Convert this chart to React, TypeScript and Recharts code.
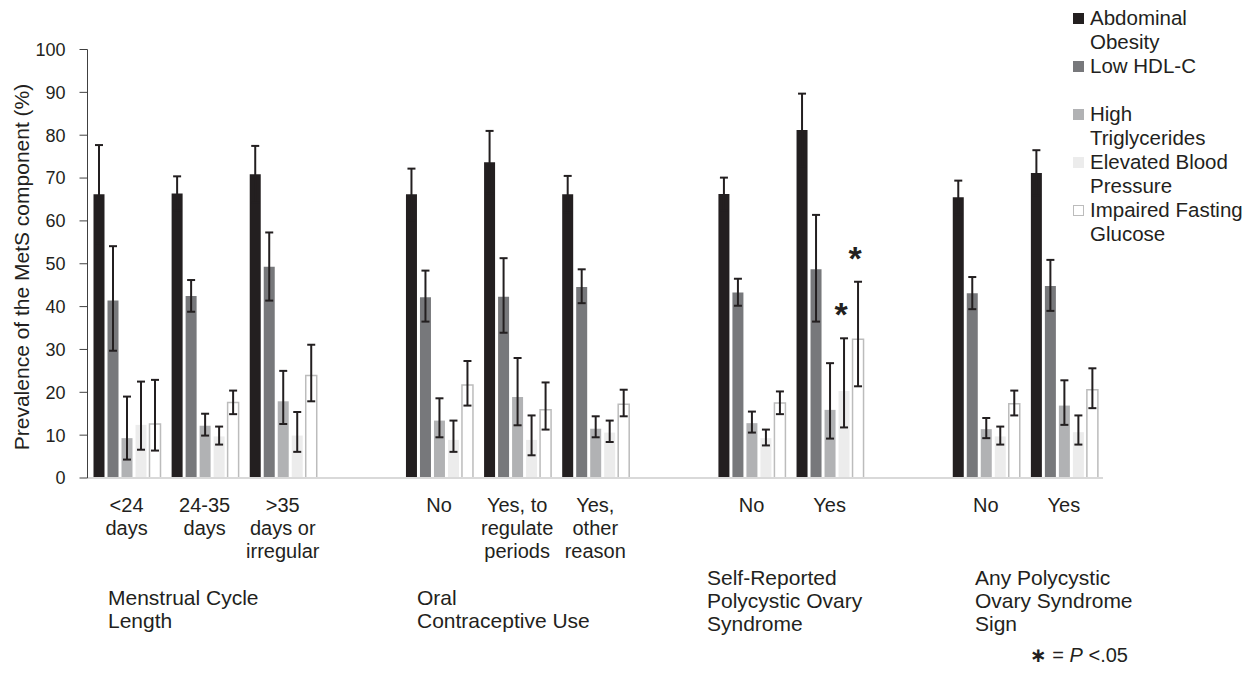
import React from 'react';
import { BarChart, Bar, XAxis, YAxis, ErrorBar, Legend, LabelList, Label } from 'recharts';

// x categories (blank entries are the gaps between groups)
const categoryLines: string[][] = [
  ['<24', 'days'],
  ['24-35', 'days'],
  ['>35', 'days or', 'irregular'],
  [],
  ['No'],
  ['Yes, to', 'regulate', 'periods'],
  ['Yes,', 'other', 'reason'],
  [],
  ['No'],
  ['Yes'],
  [],
  ['No'],
  ['Yes'],
];

const groupLabels = [
  { lines: ['Menstrual Cycle', 'Length'], left: 100, top: 578 },
  { lines: ['Oral', 'Contraceptive Use'], left: 409, top: 578 },
  { lines: ['Self-Reported', 'Polycystic Ovary', 'Syndrome'], left: 699, top: 558 },
  { lines: ['Any Polycystic', 'Ovary Syndrome', 'Sign'], left: 967, top: 558 },
];

const yTicks = [0, 10, 20, 30, 40, 50, 60, 70, 80, 90, 100];

type CI = [number, number] | null;

const abdominalObesity = [66.2, 66.4, 70.9, null, 66.2, 73.7, 66.2, null, 66.3, 81.2, null, 65.5, 71.2];
const abdominalObesityCI: CI[] = [[54.7, 77.7], [62.4, 70.4], [64.3, 77.5], null, [60.2, 72.2], [66.4, 81.0], [61.9, 70.5], null, [62.5, 70.1], [72.7, 89.7], null, [61.6, 69.4], [65.9, 76.5]];

const lowHdl = [41.4, 42.5, 49.3, null, 42.2, 42.3, 44.6, null, 43.3, 48.7, null, 43.1, 44.8];
const lowHdlCI: CI[] = [[29.7, 54.1], [38.8, 46.2], [41.4, 57.3], null, [36.5, 48.4], [33.9, 51.3], [40.8, 48.7], null, [40.2, 46.5], [36.5, 61.4], null, [39.4, 46.9], [39.0, 50.9]];

const highTg = [9.3, 12.2, 17.9, null, 13.4, 18.9, 11.5, null, 12.8, 15.9, null, 11.4, 16.9];
const highTgCI: CI[] = [[4.3, 19.0], [9.9, 15.0], [12.6, 25.0], null, [9.5, 18.6], [12.3, 28.0], [9.5, 14.4], null, [10.6, 15.5], [9.2, 26.8], null, [9.3, 14.0], [12.4, 22.8]];

const bloodPressure = [12.4, 9.7, 9.9, null, 8.9, 8.9, 10.6, null, 9.3, 20.3, null, 9.7, 10.7];
const bloodPressureCI: CI[] = [[6.6, 22.5], [7.8, 12.0], [6.1, 15.4], null, [6.1, 13.4], [5.3, 14.6], [8.4, 13.4], null, [7.6, 11.3], [11.8, 32.6], null, [7.8, 12.0], [7.8, 14.6]];
const bloodPressureSig = [false, false, false, false, false, false, false, false, false, true, false, false, false];

const fastingGlucose = [12.6, 17.6, 23.9, null, 21.7, 15.9, 17.2, null, 17.5, 32.4, null, 17.3, 20.6];
const fastingGlucoseCI: CI[] = [[6.4, 22.9], [14.9, 20.4], [17.9, 31.1], null, [16.9, 27.3], [11.3, 22.3], [14.4, 20.6], null, [14.9, 20.2], [21.4, 45.8], null, [14.6, 20.4], [16.3, 25.6]];
const fastingGlucoseSig = [false, false, false, false, false, false, false, false, false, true, false, false, false];

const series = [
  { key: 'ao', name: 'Abdominal Obesity', legend: ['Abdominal', 'Obesity'], values: abdominalObesity, ci: abdominalObesityCI, sig: null, fill: '#231f20', stroke: 'none' },
  { key: 'hdl', name: 'Low HDL-C', legend: ['Low HDL-C', ''], values: lowHdl, ci: lowHdlCI, sig: null, fill: '#77787b', stroke: 'none' },
  { key: 'tg', name: 'High Triglycerides', legend: ['High', 'Triglycerides'], values: highTg, ci: highTgCI, sig: null, fill: '#b1b2b4', stroke: 'none' },
  { key: 'bp', name: 'Elevated Blood Pressure', legend: ['Elevated Blood', 'Pressure'], values: bloodPressure, ci: bloodPressureCI, sig: bloodPressureSig, fill: '#ececec', stroke: 'none' },
  { key: 'ifg', name: 'Impaired Fasting Glucose', legend: ['Impaired Fasting', 'Glucose'], values: fastingGlucose, ci: fastingGlucoseCI, sig: fastingGlucoseSig, fill: '#ffffff', stroke: '#bcbcbc' },
];

const data = categoryLines.map((lines, i) => {
  const row: any = { key: `c${i}` };
  series.forEach((s) => {
    const v = s.values[i];
    const ci = s.ci[i];
    row[s.key] = v;
    row[`${s.key}Err`] = v != null && ci ? [v - ci[0], ci[1] - v] : undefined;
    // category index of a significant bar, so the label can look up its CI
    row[`${s.key}Star`] = s.sig && s.sig[i] ? i : null;
  });
  return row;
});

const TEXT = '#231f20';
const FONT = '"Liberation Sans", Arial, sans-serif';
const BAR_SIZE = 11;

const CategoryTick = (props: any) => {
  const { x, y, payload } = props;
  const lines = categoryLines[payload.index] || [];
  return (
    <text x={x} y={y + 34} textAnchor="middle" fontSize={20} fill={TEXT} fontFamily={FONT}>
      {lines.map((l, i) => (
        <tspan key={i} x={x} dy={i === 0 ? 0 : 23}>{l}</tspan>
      ))}
    </text>
  );
};

// significance star drawn above the upper end of the error bar
const makeStar = (values: (number | null)[], ci: CI[]) => (props: any) => {
  const cat = props.value;
  if (cat == null || cat === '') return null;
  const v = values[cat];
  const bounds = ci[cat];
  if (v == null || !bounds) return null;
  const { x, y, height } = props;
  const zeroY = y + height;
  const perUnit = height / v;
  const topY = zeroY - bounds[1] * perUnit;
  return (
    <text x={x + BAR_SIZE / 2 - 3} y={topY - 12} textAnchor="middle" fontSize={34} fontWeight="bold" fill={TEXT} fontFamily={FONT}>
      *
    </text>
  );
};

const LegendContent = () => (
  <div style={{ fontSize: 20.5, lineHeight: '24px', color: TEXT, fontFamily: FONT, whiteSpace: 'nowrap' }}>
    {series.map((s) => (
      <div key={s.key} style={{ display: 'flex', alignItems: 'flex-start' }}>
        <span
          style={{
            width: 11,
            height: 11,
            marginTop: 7,
            marginRight: 6,
            flexShrink: 0,
            boxSizing: 'border-box',
            background: s.fill,
            border: s.stroke !== 'none' ? `1px solid ${s.stroke}` : 'none',
          }}
        />
        <div>
          {s.legend.map((l, i) => (
            <div key={i} style={{ height: 24 }}>{l}</div>
          ))}
        </div>
      </div>
    ))}
  </div>
);

export default function App() {
  return (
    <div style={{ position: 'relative', width: 1242, height: 657, fontFamily: FONT, color: TEXT }}>
      <BarChart
        width={1242}
        height={657}
        data={data}
        margin={{ top: 41.5, right: 147, bottom: 127, left: 0 }}
        barSize={BAR_SIZE}
        barGap={3}
      >
        <XAxis
          dataKey="key"
          interval={0}
          tick={<CategoryTick />}
          tickLine={false}
          tickSize={0}
          tickMargin={0}
          height={60}
          axisLine={{ stroke: '#d9d9d9', strokeWidth: 2 }}
        />
        <YAxis
          width={79.5}
          domain={[0, 100]}
          ticks={yTicks}
          interval={0}
          tickSize={8}
          tickMargin={14}
          axisLine={{ stroke: '#404040', strokeWidth: 1 }}
          tickLine={{ stroke: '#404040', strokeWidth: 1 }}
          tick={{ fontSize: 18, fill: TEXT, fontFamily: FONT }}
        >
          <Label
            content={() => (
              <text
                x={13}
                y={259}
                transform="rotate(-90 13 259)"
                textAnchor="middle"
                dominantBaseline="central"
                fontSize={21}
                fill={TEXT}
                fontFamily={FONT}
              >
                Prevalence of the MetS component (%)
              </text>
            )}
          />
        </YAxis>
        <Legend
          layout="vertical"
          align="center"
          verticalAlign="middle"
          content={<LegendContent />}
          wrapperStyle={{ left: 1065, top: -2, width: 177 }}
        />
        {series.map((s) => (
          <Bar
            key={s.key}
            dataKey={s.key}
            name={s.name}
            fill={s.fill}
            stroke={s.stroke}
            strokeWidth={s.stroke !== 'none' ? 1.5 : 0}
            isAnimationActive={false}
          >
            <ErrorBar dataKey={`${s.key}Err`} width={4} stroke={TEXT} strokeWidth={2} direction="y" isAnimationActive={false} />
            {s.sig && <LabelList dataKey={`${s.key}Star`} content={makeStar(s.values, s.ci)} />}
          </Bar>
        ))}
      </BarChart>

      {groupLabels.map((g, i) => (
        <div
          key={i}
          style={{ position: 'absolute', left: g.left, top: g.top, fontSize: 21, lineHeight: '23px', whiteSpace: 'nowrap' }}
        >
          {g.lines.map((l, j) => (
            <div key={j}>{l}</div>
          ))}
        </div>
      ))}

      <div style={{ position: 'absolute', left: 1022, top: 635, fontSize: 20, lineHeight: '24px', whiteSpace: 'nowrap' }}>
        <span style={{ fontWeight: 'bold', fontFamily: '"DejaVu Sans", sans-serif' }}>{'\u2217'}</span> = <i>P</i> &lt;.05
      </div>
    </div>
  );
}
